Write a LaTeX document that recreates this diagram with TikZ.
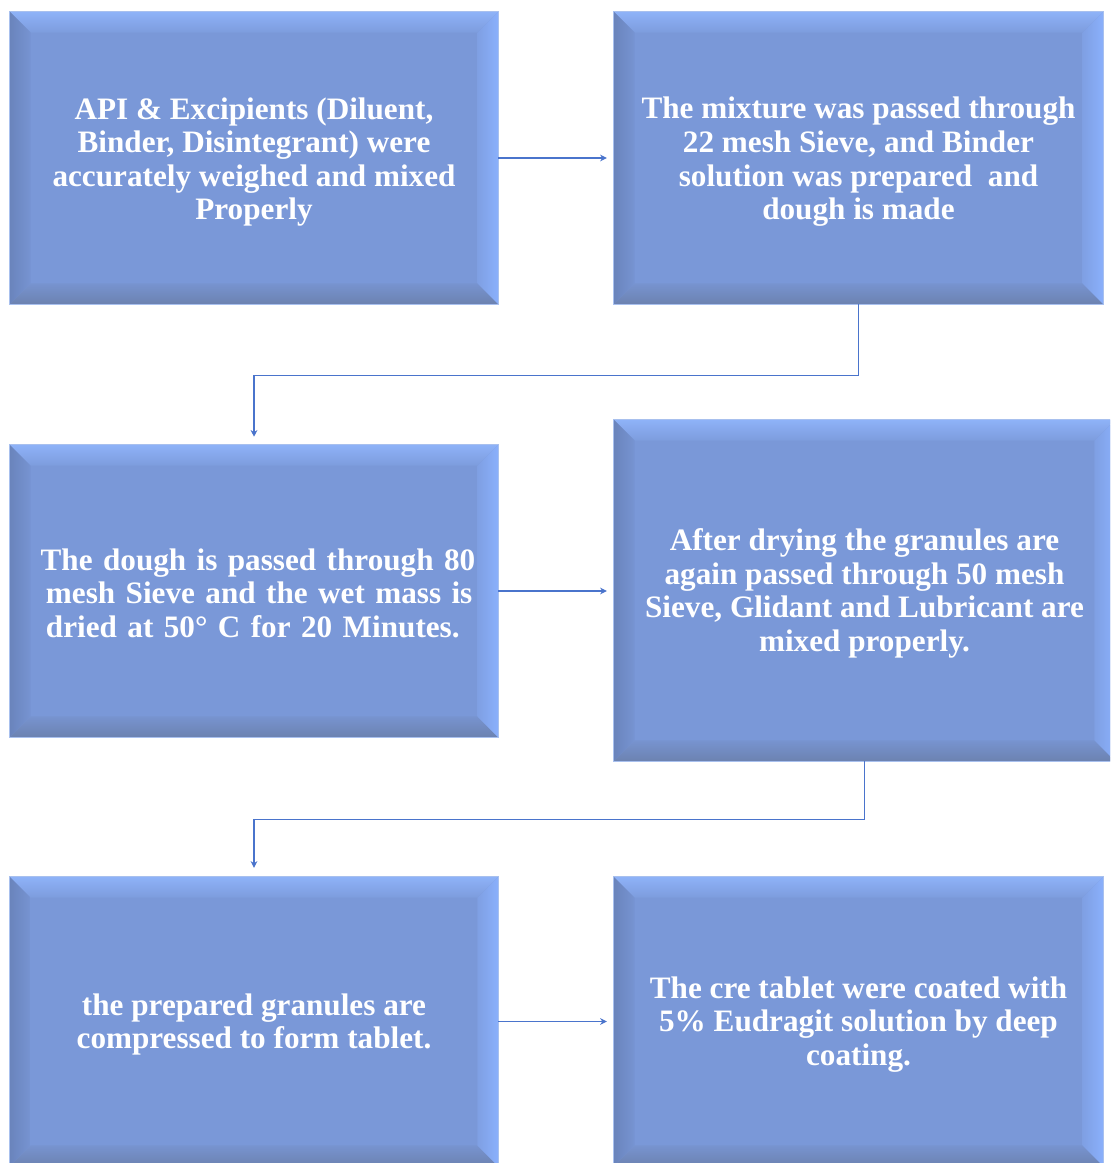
\documentclass[tikz,border=0pt]{standalone}
\usepackage{fontspec}
\setmainfont{Liberation Serif}
\usetikzlibrary{fit,calc,arrows.meta}
\definecolor{boxmain}{RGB}{122,152,216}
\definecolor{beveltop}{RGB}{142,178,248}
\definecolor{bevelleft}{RGB}{106,132,188}
\definecolor{bevelbottom}{RGB}{108,130,176}
\definecolor{bevelright}{RGB}{138,176,252}
\definecolor{boxedge}{RGB}{168,192,238}
\definecolor{connblue}{RGB}{74,116,204}
\tikzset{
  x=0.75pt, y=-0.75pt,
  procbox/.style={fill=boxmain, inner sep=0pt, text=white,
    font=\bfseries\fontsize{23.4}{25.2}\selectfont, align=center},
  conn/.style={draw=connblue, line width=1.1pt, -{Stealth[length=5pt,width=5pt]}},
}
\newcommand\bevelit[1]{%
  \shade[top color=beveltop, bottom color=boxmain!85!beveltop]
    (#1.north west) -- (#1.north east) -- ($(#1.north east)+(-21,21)$) -- ($(#1.north west)+(21,21)$) -- cycle;
  \shade[left color=bevelleft, right color=boxmain!80!bevelleft]
    (#1.north west) -- ($(#1.north west)+(21,21)$) -- ($(#1.south west)+(21,-21)$) -- (#1.south west) -- cycle;
  \shade[bottom color=bevelbottom, top color=boxmain!80!bevelbottom]
    (#1.south west) -- ($(#1.south west)+(21,-21)$) -- ($(#1.south east)+(-21,-21)$) -- (#1.south east) -- cycle;
  \shade[right color=bevelright, left color=boxmain!70!bevelright]
    (#1.north east) -- (#1.south east) -- ($(#1.south east)+(-21,-21)$) -- ($(#1.north east)+(-21,21)$) -- cycle;
  \draw[boxedge, line width=1.1pt] (#1.north west) rectangle (#1.south east);
}
\begin{document}
\begin{tikzpicture}
\useasboundingbox (0,0) rectangle (1110,1163);
\clip (0,0) rectangle (1110,1163);
\fill[white] (0,0) rectangle (1110,1163);

\node[procbox, fit={(10,12)(498,304)}] (b1) {};
\bevelit{b1}
\node[procbox, fill=none] (t1) at ($(b1.center)+(0,4)$) {API \& Excipients (Diluent,\\Binder, Disintegrant) were\\accurately weighed and mixed\\Properly};

\node[procbox, fit={(614,12)(1103,304)}] (b2) {};
\bevelit{b2}
\node[procbox, fill=none] (t2) at ($(b2.center)+(0,4)$) {The mixture was passed through\\22 mesh Sieve, and Binder\\solution was prepared\ \ and\\dough is made};

\node[procbox, fit={(10,445)(498,737)}] (b3) {};
\bevelit{b3}
\node[procbox, fill=none, align=left, text width=323pt] (t3) at ($(b3.center)+(2,2)$) {\makebox[\linewidth][s]{The dough is passed through 80}\\\makebox[\linewidth][s]{\hspace{4pt}mesh Sieve and the wet mass is}\\\hspace{4pt}dried at 50° C for 20 Minutes.};

\node[procbox, fit={(614,420)(1115,761)}] (b4) {};
\bevelit{b4}
\node[procbox, fill=none] (t4) at ($(b4.center)+(0,3)$) {After drying the granules are\\again passed through 50 mesh\\Sieve, Glidant and Lubricant are\\mixed properly.};

\node[procbox, fit={(614,877)(1103,1166)}] (b6) {};
\node[procbox, fit={(10,877)(498,1166)}] (b5) {};
\bevelit{b5}
\node[procbox, fill=none] (t5) at ($(b5.center)+(0,3)$) {the prepared granules are\\compressed to form tablet.};

\bevelit{b6}
\node[procbox, fill=none] (t6) at ($(b6.center)+(0,3)$) {The cre tablet were coated with\\5\% Eudragit solution by deep\\coating.};

\draw[conn, shorten >=5.2pt] (b1.east) -- (b2.west);
\draw[conn, shorten >=5.2pt] (b3.east) -- (b4.west |- b3.east);
\draw[conn, shorten >=5.2pt] (b5.east) -- (b6.west);
\draw[conn, shorten >=6pt] (b2.south) -- ++(0,71) -| (b3.north);
\draw[conn, shorten >=6.7pt] (b4.south) -- ++(0,58) -| (b5.north);
\end{tikzpicture}
\end{document}
